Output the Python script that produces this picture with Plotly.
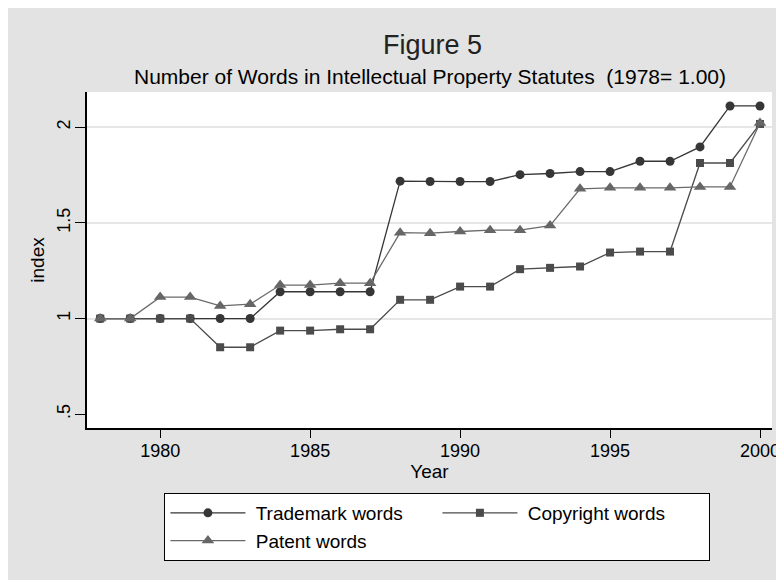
import plotly.graph_objects as go

years = list(range(1978, 2001))
trademark = [1.0, 1.0, 1.0, 1.0, 1.0, 1.0, 1.14, 1.14, 1.14, 1.14,
             1.718, 1.716, 1.716, 1.716, 1.752, 1.758, 1.768, 1.768,
             1.822, 1.822, 1.897, 2.111, 2.111]
copyright_ = [1.0, 1.0, 1.0, 1.0, 0.85, 0.85, 0.937, 0.937, 0.944, 0.944,
              1.098, 1.098, 1.167, 1.167, 1.258, 1.265, 1.272, 1.345,
              1.35, 1.35, 1.813, 1.813, 2.017]
patent = [1.0, 1.0, 1.112, 1.112, 1.066, 1.075, 1.175, 1.175, 1.185, 1.185,
          1.449, 1.446, 1.455, 1.462, 1.462, 1.486, 1.678, 1.683,
          1.683, 1.683, 1.688, 1.688, 2.022]

x_ticks = [1980, 1985, 1990, 1995, 2000]
y_ticks = [0.5, 1.0, 1.5, 2.0]
y_ticktext = [".5", "1", "1.5", "2"]

FONT = "Arial, Liberation Sans, sans-serif"
NB = "\u00a0"

fig = go.Figure()
fig.add_trace(go.Scatter(
    x=years, y=trademark, name=NB + "Trademark words", mode="lines+markers",
    line=dict(color="#363636", width=1.3),
    marker=dict(symbol="circle", size=9, color="#363636")))
fig.add_trace(go.Scatter(
    x=years, y=copyright_, name=NB + "Copyright words", mode="lines+markers",
    line=dict(color="#4b4b4b", width=1.3),
    marker=dict(symbol="square", size=8, color="#4b4b4b")))
fig.add_trace(go.Scatter(
    x=years, y=patent, name=NB + "Patent words", mode="lines+markers",
    line=dict(color="#6a6a6a", width=1.3),
    marker=dict(symbol="triangle-up", size=11, color="#666666")))

W, H = 784, 580
L, R, T, B = 79, 14, 84, 160
pw, ph = W - L - R, H - T - B

fig.update_layout(
    width=W, height=H,
    margin=dict(l=L, r=R, t=T, b=B),
    paper_bgcolor="#e3e3e3",
    plot_bgcolor="white",
    font=dict(family=FONT, size=18, color="black"),
    title=dict(text="Figure 5", x=(L + pw / 2) / W, xanchor="center",
               y=1 - 37 / H, yanchor="middle",
               font=dict(size=27, color="#222222")),
    showlegend=True,
    legend=dict(orientation="h", x=0.5 + 8 / pw, xanchor="center",
                y=-65 / ph, yanchor="top",
                bgcolor="white", bordercolor="black", borderwidth=1,
                font=dict(size=19), entrywidth=182, entrywidthmode="pixels",
                itemwidth=75),
    xaxis=dict(range=[1977.56, 2000.40], tickvals=x_ticks, ticks="outside",
               ticklen=8, tickcolor="black", tickwidth=1.3,
               showline=True, linecolor="black", linewidth=1.5,
               showgrid=False, zeroline=False, ticklabelstandoff=-2,
               title=dict(text="Year", standoff=2, font=dict(size=19)),
               tickfont=dict(size=18)),
    yaxis=dict(range=[0.428, 2.184], tickvals=y_ticks, ticktext=y_ticktext,
               ticks="outside", ticklen=10, tickcolor="black", tickwidth=1.3,
               tickangle=-90, showline=True, linecolor="black", linewidth=1.5,
               showgrid=False, zeroline=False, ticklabelstandoff=-2,
               minor=dict(tickvals=[1.0, 1.5, 2.0], showgrid=True,
                          gridcolor="#e6e6e6", gridwidth=1.5, ticklen=0),
               title=dict(text="index", standoff=4, font=dict(size=19)),
               tickfont=dict(size=18)),
    annotations=[dict(text="Number of Words in Intellectual Property Statutes  (1978= 1.00)",
                      xref="paper", yref="paper", x=0.5, y=1 + 15 / ph,
                      xanchor="center", yanchor="middle", showarrow=False,
                      font=dict(size=21, color="black"))],
)

fig.write_html("out.html")
